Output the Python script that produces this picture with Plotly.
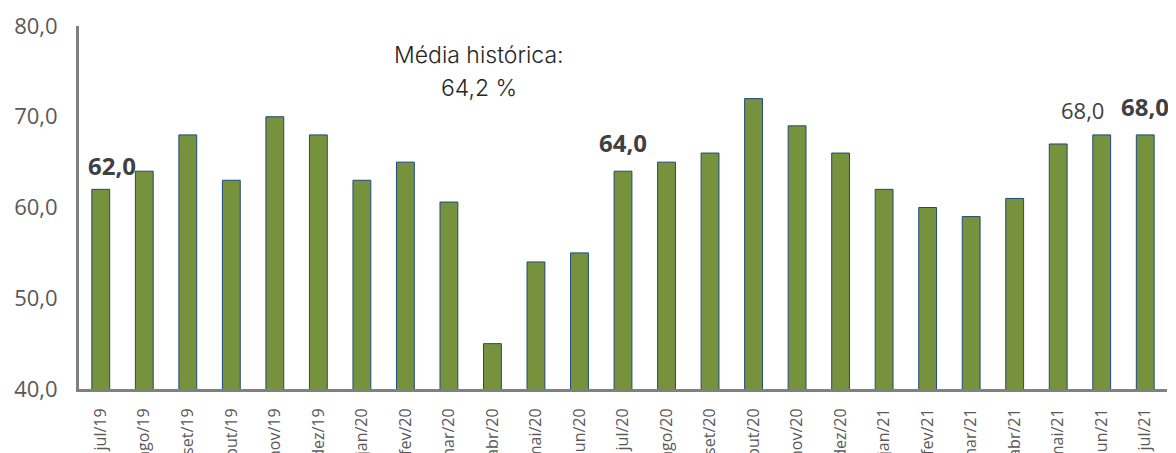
import plotly.graph_objects as go

categories = ["jul/19", "ago/19", "set/19", "out/19", "nov/19", "dez/19",
              "jan/20", "fev/20", "mar/20", "abr/20", "mai/20", "jun/20",
              "jul/20", "ago/20", "set/20", "out/20", "nov/20", "dez/20",
              "jan/21", "fev/21", "mar/21", "abr/21", "mai/21", "jun/21", "jul/21"]
values = [62.0, 64.0, 68.0, 63.0, 70.0, 68.0,
          63.0, 65.0, 60.6, 45.0, 54.0, 55.0,
          64.0, 65.0, 66.0, 72.0, 69.0, 66.0,
          62.0, 60.0, 59.0, 61.0, 67.0, 68.0, 68.0]
y_ticks = [40, 50, 60, 70, 80]
y_tick_text = ["40,0", "50,0", "60,0", "70,0", "80,0"]

# labelled bars: (category, text, bold)
labels = [("jul/19", "62,0", True), ("jul/20", "64,0", True),
          ("jun/21", "68,0", False), ("jul/21", "68,0", True)]
media_title = "Média histórica:"
media_value = "64,2 %"

fig = go.Figure()
fig.add_trace(go.Bar(
    x=categories, y=values,
    marker=dict(color="#76923C", line=dict(color="#1F497D", width=1)),
    width=0.41,
    hoverinfo="x+y",
))

val_map = dict(zip(categories, values))
label_style = {
    "jul/19": dict(xshift=11, yshift=24),
    "jul/20": dict(xshift=0, yshift=29),
    "jun/21": dict(xshift=-19, yshift=25),
    "jul/21": dict(xshift=0, yshift=28),
}
for cat, txt, bold in labels:
    st = label_style[cat]
    fig.add_annotation(
        x=cat, y=val_map[cat], text=txt, showarrow=False,
        yanchor="middle", xanchor="center",
        xshift=st["xshift"], yshift=st["yshift"],
        font=dict(family="Open Sans", size=24 if bold else 22,
                  color="#404040", weight=700 if bold else 400),
    )

fig.add_annotation(
    x=8.7, y=76.8, text=media_title, showarrow=False,
    yanchor="middle", xanchor="center",
    font=dict(family="Inter", size=23, color="#262626", weight=300),
)
fig.add_annotation(
    x=8.7, y=73.2, text=media_value, showarrow=False,
    yanchor="middle", xanchor="center",
    font=dict(family="Inter", size=23, color="#262626", weight=300),
)

fig.update_layout(
    width=1168, height=445,
    margin=dict(l=71, r=9, t=18, b=64, autoexpand=False),
    plot_bgcolor="white", paper_bgcolor="white",
    showlegend=False,
    xaxis=dict(
        type="category", tickangle=-90, automargin=False,
        showline=True, linecolor="#808080", linewidth=3,
        ticks="", showgrid=False, ticklabelstandoff=10,
        tickfont=dict(family="Open Sans", size=16, color="#595959"),
        range=[-0.5, len(categories) - 0.5],
    ),
    yaxis=dict(
        range=[40, 80], tickvals=y_ticks, ticktext=y_tick_text,
        automargin=False, showgrid=False, zeroline=False,
        showline=True, linecolor="#808080", linewidth=3, ticks="",
        ticklabelstandoff=14,
        tickfont=dict(family="Open Sans", size=22, color="#595959"),
    ),
)

fig.write_html("out.html")
